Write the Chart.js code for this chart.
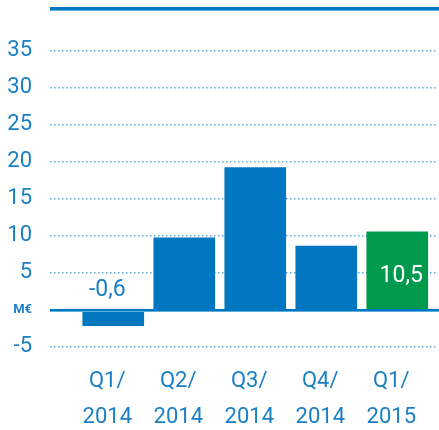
<!DOCTYPE html>
<html>
<head>
<meta charset="utf-8">
<script src="https://cdn.jsdelivr.net/npm/chart.js@4.4.1/dist/chart.umd.min.js"></script>
<style>
  body { margin: 0; background: #fff; }
</style>
</head>
<body>
<canvas id="myChart" width="439" height="430"></canvas>
<script>
// Quarters (two-line labels)
let quarters = [['Q1/', '2014'], ['Q2/', '2014'], ['Q3/', '2014'], ['Q4/', '2014'], ['Q1/', '2015']];
// Result per quarter, M€
let result = [-0.6, 9.7, 19.2, 8.6, 10.5];
// Bar colours
let barColors = ['#0077c0', '#0077c0', '#0077c0', '#0077c0', '#009a4e'];
// Bars that carry a value label
let showValue = [true, false, false, false, true];
// Y axis
let yMin = -5;
let yMax = 35;
let yStep = 5;
let unitLabel = 'M€';

let blue = '#0077c0';
let lightBlue = '#5aaee0';
let textBlue = '#1a80c6';

let linesPlugin = {
    id: 'lines',
    afterDatasetsDraw(chart) {
        let ctx = chart.ctx;
        let area = chart.chartArea;
        let w = chart.width - area.left;
        let y0 = Math.round(chart.scales.y.getPixelForValue(0));
        ctx.save();
        // top rule
        ctx.fillStyle = blue;
        ctx.fillRect(area.left, 7, w, 3);
        ctx.fillStyle = lightBlue;
        ctx.fillRect(area.left, 10, w, 1);
        // zero line
        ctx.fillStyle = blue;
        ctx.fillRect(area.left, y0 - 1, w, 2);
        ctx.fillStyle = lightBlue;
        ctx.fillRect(area.left, y0 + 1, w, 1);
        // value labels
        let meta = chart.getDatasetMeta(0);
        ctx.font = '23px Roboto';
        ctx.textAlign = 'center';
        ctx.textBaseline = 'middle';
        meta.data.forEach(function (bar, i) {
            if (!showValue[i]) return;
            let v = result[i];
            let txt = v.toFixed(1).replace('.', ',');
            if (v < 0) {
                ctx.fillStyle = textBlue;
                ctx.fillText(txt, bar.x - 6, y0 - 20);
            } else {
                ctx.fillStyle = '#ffffff';
                ctx.fillText(txt, bar.x + 4, (bar.y + bar.base) / 2 + 6);
            }
        });
        ctx.restore();
    }
};

let myChart = document.getElementById('myChart').getContext('2d');

let chart = new Chart(myChart, {
    type: 'bar',
    data: {
        datasets: [{
            data: result.map(function (v, i) { return {x: i + 1, y: v}; }),
            backgroundColor: barColors,
            barThickness: 61,
            minBarLength: 16
        }]
    },
    options: {
        responsive: false,
        animation: false,
        layout: {padding: {top: 50.7, left: 0, right: 0, bottom: 0}},
        plugins: {
            legend: {display: false},
            tooltip: {enabled: false}
        },
        scales: {
            x: {
                type: 'linear',
                offset: false,
                min: 0.109,
                max: 5.555,
                grid: {display: false, drawTicks: false},
                border: {display: false},
                afterBuildTicks: function (axis) {
                    axis.ticks = quarters.map(function (q, i) { return {value: i + 1}; });
                },
                afterFit: function (axis) { axis.height = 83.4; },
                ticks: {
                    autoSkip: false,
                    maxRotation: 0,
                    padding: 17,
                    labelOffset: -6,
                    color: textBlue,
                    font: {family: 'Roboto', size: 22, lineHeight: 1.64},
                    callback: function (v) { return quarters[v - 1]; }
                }
            },
            y: {
                min: yMin,
                max: yMax,
                afterFit: function (axis) { axis.width = 50; },
                grid: {
                    drawTicks: false,
                    lineWidth: 1.5,
                    color: function (c) { return c.tick.value === 0 ? 'rgba(0,0,0,0)' : '#5fa8dc'; }
                },
                border: {display: false, dash: [1.5, 2.5]},
                ticks: {
                    stepSize: yStep,
                    padding: 18,
                    color: textBlue,
                    font: function (c) {
                        return c.tick && c.tick.value === 0
                            ? {family: 'Roboto', size: 13, weight: 'bold'}
                            : {family: 'Roboto', size: 22};
                    },
                    callback: function (v) { return v === 0 ? unitLabel : String(v); }
                }
            }
        }
    },
    plugins: [linesPlugin]
});
</script>
</body>
</html>
